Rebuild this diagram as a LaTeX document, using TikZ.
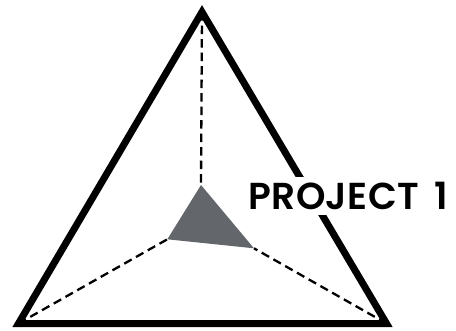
\documentclass[tikz,border=0pt]{standalone}
\usepackage{xcolor}
\usepackage{fontspec}
\setmainfont{Poppins}[UprightFont=* SemiBold, LetterSpace=1.2, WordSpace=1.6]
\usetikzlibrary{positioning}
\definecolor{prMid}{HTML}{63666A}
\tikzset{
  frameline/.style={draw=black, line width=7bp, miter limit=10, line join=miter},
  axisdash/.style={draw=black, line width=2.3bp, dash pattern=on 8.5bp off 5bp},
  midpatch/.style={fill=prMid, draw=none},
  projlabel/.style={fill=white, inner xsep=2bp, inner ysep=5bp, text=black, font=\fontsize{37.5bp}{40bp}\selectfont}
}
\begin{document}
\begin{tikzpicture}[x=1bp,y=-1bp]
  \useasboundingbox (0,0) rectangle (456,330);
  % corners of the frame and of the patch
  \coordinate (top) at (202,12);
  \coordinate (left) at (18.5,323.5);
  \coordinate (right) at (386.5,323.5);
  \coordinate (midtop) at (201,185);
  \coordinate (midleft) at (167.3,239.3);
  \coordinate (midright) at (254,248.3);
  \draw[axisdash] (top) -- (midtop);
  \draw[axisdash] (left) -- (midleft);
  \draw[axisdash] (right) -- (midright);
  \draw[frameline] (top) -- (left) -- (right) -- cycle;
  \fill[midpatch] (midtop) -- (midleft) -- (midright) -- cycle;
  \node[projlabel] (project) at (348,196) {PROJECT 1};
\end{tikzpicture}
\end{document}
